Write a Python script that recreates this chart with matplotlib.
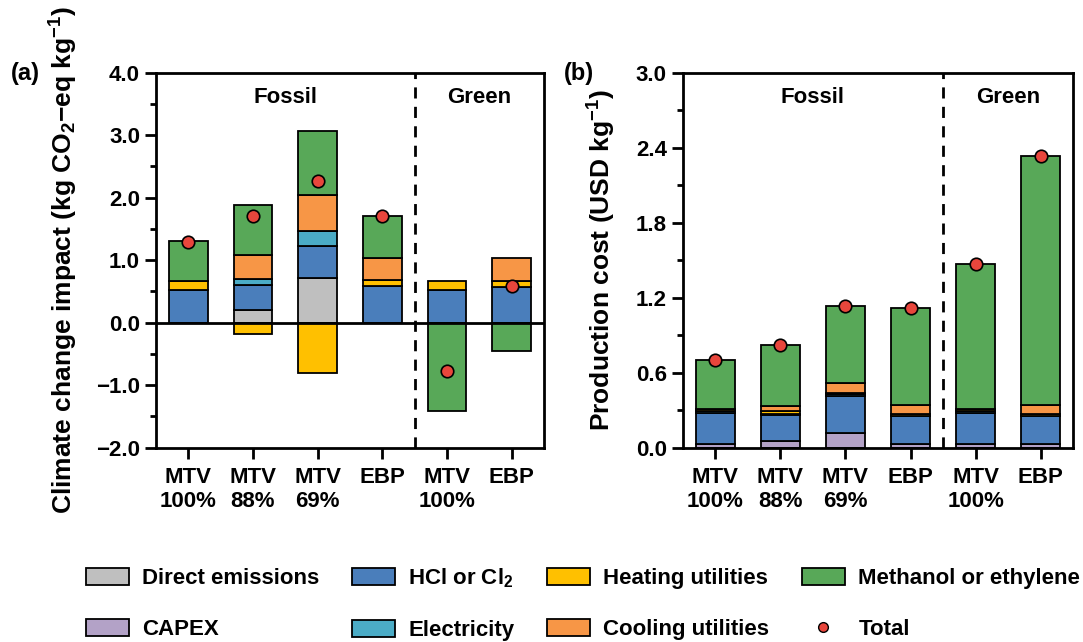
import numpy as np
import matplotlib
matplotlib.use("Agg")
import matplotlib.pyplot as plt
from matplotlib.patches import Patch
from matplotlib.lines import Line2D
from matplotlib.ticker import MultipleLocator, AutoMinorLocator, FuncFormatter

plt.rcParams['font.family'] = ['Liberation Sans', 'DejaVu Sans']
plt.rcParams['font.weight'] = 'bold'
plt.rcParams['mathtext.fontset'] = 'custom'
plt.rcParams['mathtext.rm'] = 'Liberation Sans:bold'
plt.rcParams['mathtext.bf'] = 'Liberation Sans:bold'
plt.rcParams['mathtext.default'] = 'bf'

# data
cases = ["MTV\n100%", "MTV\n88%", "MTV\n69%", "EBP", "MTV\n100%", "EBP"]

# (a) climate change impact, kg CO2-eq / kg
a_direct   = [0.00, 0.21, 0.71, 0.00, 0.00, 0.00]
a_hcl      = [0.53, 0.39, 0.51, 0.58, 0.53, 0.57]
a_elec     = [0.00, 0.10, 0.24, 0.00, 0.00, 0.00]
a_heat     = [0.13, -0.18, -0.81, 0.10, 0.13, 0.10]
a_cool     = [0.00, 0.39, 0.59, 0.35, 0.00, 0.36]
a_methanol = [0.64, 0.79, 1.01, 0.67, -1.42, -0.45]
a_total    = [1.29, 1.70, 2.26, 1.70, -0.78, 0.58]

# (b) production cost, USD / kg
b_capex    = [0.03, 0.05, 0.12, 0.03, 0.03, 0.03]
b_hcl      = [0.25, 0.21, 0.29, 0.22, 0.25, 0.22]
b_elec     = [0.01, 0.01, 0.02, 0.00, 0.01, 0.00]
b_heat     = [0.02, 0.02, 0.01, 0.02, 0.02, 0.02]
b_cool     = [0.00, 0.04, 0.08, 0.07, 0.00, 0.07]
b_methanol = [0.39, 0.49, 0.61, 0.78, 1.16, 1.99]
b_total    = [0.70, 0.82, 1.13, 1.12, 1.47, 2.33]

c_direct = '#BFBFBF'
c_capex = '#B3A2C7'
c_hcl = '#4A7EBB'
c_elec = '#4BACC6'
c_heat = '#FFC000'
c_cool = '#F79646'
c_meth = '#58A858'
c_dot = '#E8463C'

x = np.arange(1, len(cases) + 1)
w = 0.6
fs = 16


def stack(ax, parts):
    pos = np.zeros(len(x))
    neg = np.zeros(len(x))
    for vals, col in parts:
        for i, v in enumerate(vals):
            if v == 0:
                continue
            if v > 0:
                ax.bar(x[i], v, w, bottom=pos[i], color=col, edgecolor='black', linewidth=1.3, zorder=2)
                pos[i] += v
            else:
                ax.bar(x[i], v, w, bottom=neg[i], color=col, edgecolor='black', linewidth=1.3, zorder=2)
                neg[i] += v


def style(ax):
    ax.set_xlim(0.5, 6.5)
    ax.set_xticks(x)
    ax.set_xticklabels(cases, fontsize=fs, fontweight='bold', linespacing=1.2)
    ax.yaxis.set_minor_locator(AutoMinorLocator(2))
    ax.yaxis.set_major_formatter(FuncFormatter(lambda v, p: f'{v:.1f}'.replace('-', '\u2212')))
    ax.tick_params(axis='both', direction='out', width=2, length=8, labelsize=fs)
    ax.tick_params(axis='y', which='minor', direction='out', width=2, length=4)
    ax.tick_params(axis='x', pad=6)
    for s in ax.spines.values():
        s.set_linewidth(2)
    ax.axvline(4.5, color='black', linestyle=(0, (4, 3)), linewidth=2, zorder=3)


fig = plt.figure(figsize=(10.83, 6.42), dpi=100)
ax1 = fig.add_axes([0.1440, 0.3026, 0.3583, 0.5841])
ax2 = fig.add_axes([0.6304, 0.3026, 0.3607, 0.5841])

stack(ax1, [(a_direct, c_direct), (a_hcl, c_hcl), (a_elec, c_elec),
            (a_heat, c_heat), (a_cool, c_cool), (a_methanol, c_meth)])
ax1.plot(x, a_total, 'o', color=c_dot, markeredgecolor='black', markersize=9, markeredgewidth=1.2, zorder=4)
ax1.axhline(0, color='black', linewidth=2, zorder=3)
ax1.set_ylim(-2.0, 4.0)
ax1.yaxis.set_major_locator(MultipleLocator(1.0))
style(ax1)
ax1.set_ylabel(r'Climate change impact (kg CO$_{2}$$-$eq kg$^{-1}$)', fontsize=19, fontweight='bold')
ax1.yaxis.set_label_coords(-0.196, 0.5)
ax1.text(2.5, 3.6, 'Fossil', ha='center', va='center', fontsize=fs, fontweight='bold')
ax1.text(5.5, 3.6, 'Green', ha='center', va='center', fontsize=fs, fontweight='bold')

stack(ax2, [(b_capex, c_capex), (b_hcl, c_hcl), (b_elec, c_elec),
            (b_heat, c_heat), (b_cool, c_cool), (b_methanol, c_meth)])
ax2.plot(x, b_total, 'o', color=c_dot, markeredgecolor='black', markersize=9, markeredgewidth=1.2, zorder=4)
ax2.set_ylim(0, 3.0)
ax2.yaxis.set_major_locator(MultipleLocator(0.6))
style(ax2)
ax2.set_ylabel(r'Production cost (USD kg$^{-1}$)', fontsize=19, fontweight='bold')
ax2.yaxis.set_label_coords(-0.166, 0.5)
ax2.text(2.5, 2.8, 'Fossil', ha='center', va='center', fontsize=fs, fontweight='bold')
ax2.text(5.5, 2.8, 'Green', ha='center', va='center', fontsize=fs, fontweight='bold')

fig.text(0.010, 0.885, '(a)', fontsize=17, fontweight='bold', va='center')
fig.text(0.521, 0.885, '(b)', fontsize=17, fontweight='bold', va='center')

handles = [
    Patch(facecolor=c_direct, edgecolor='black', linewidth=1.3, label='Direct emissions'),
    Patch(facecolor=c_capex, edgecolor='black', linewidth=1.3, label='CAPEX'),
    Patch(facecolor=c_hcl, edgecolor='black', linewidth=1.3, label=r'HCl or Cl$_{2}$'),
    Patch(facecolor=c_elec, edgecolor='black', linewidth=1.3, label='Electricity'),
    Patch(facecolor=c_heat, edgecolor='black', linewidth=1.3, label='Heating utilities'),
    Patch(facecolor=c_cool, edgecolor='black', linewidth=1.3, label='Cooling utilities'),
    Patch(facecolor=c_meth, edgecolor='black', linewidth=1.3, label='Methanol or ethylene'),
    Line2D([], [], marker='o', linestyle='none', color=c_dot, markeredgecolor='black',
           markersize=7, label='Total'),
]
fig.legend(handles=handles, ncol=4, loc='upper left', bbox_to_anchor=(0.079, 0.118),
           frameon=False, fontsize=fs, handlelength=1.95, handleheight=0.8,
           handletextpad=0.6, columnspacing=1.45, labelspacing=1.35, borderpad=0, borderaxespad=0)

fig.savefig('out.png', dpi=100)
